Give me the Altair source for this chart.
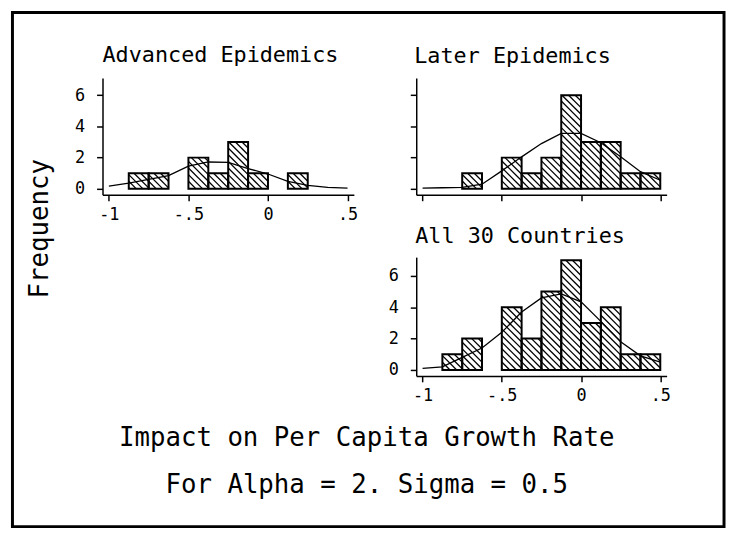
import altair as alt
import pandas as pd

# ---------------- data ----------------
bin_starts = [-0.875, -0.75, -0.625, -0.5, -0.375, -0.25, -0.125, 0.0, 0.125, 0.25, 0.375]
bin_width = 0.125
adv_counts = [1, 1, 0, 2, 1, 3, 1, 0, 1, 0, 0]
later_counts = [0, 1, 0, 2, 1, 2, 6, 3, 3, 1, 1]
all_counts = [1, 2, 0, 4, 2, 5, 7, 3, 4, 1, 1]

curve_x = [-1.0, -0.875, -0.75, -0.625, -0.5, -0.375, -0.25, -0.125, 0.0, 0.125, 0.25, 0.375, 0.5]
adv_curve = [0.17, 0.36, 0.6, 0.85, 1.45, 1.72, 1.7, 1.3, 0.95, 0.48, 0.22, 0.1, 0.05]
later_curve = [0.04, 0.07, 0.1, 0.3, 1.15, 2.05, 2.9, 3.55, 3.55, 2.95, 2.05, 1.1, 0.55]
all_curve = [0.1, 0.2, 0.8, 1.4, 2.4, 3.7, 4.6, 4.85, 4.35, 3.1, 1.8, 0.9, 0.5]

panel_titles = ["Advanced Epidemics", "Later Epidemics", "All 30 Countries"]
x_ticks = [-1, -0.5, 0, 0.5]
x_tick_labels = ["-1", "-.5", "0", ".5"]
y_ticks = [0, 2, 4, 6]
y_title = ["Frequency"]
x_title_1 = ["Impact on Per Capita Growth Rate"]
x_title_2 = ["For Alpha = 2. Sigma = 0.5"]

# ---------------- layout / style ----------------
FONT = "DejaVu Sans Mono"
XMIN, XMAX = -1.04, 0.54
YMIN = -0.38
PW1, PW2 = 254, 253
HATCH = 6.7  # px between hatch lines (horizontal)

label_expr = " : ".join(
    f"datum.value == {v} ? '{t}'" for v, t in zip(x_ticks[:-1], x_tick_labels[:-1])
) + f" : '{x_tick_labels[-1]}'"


def hatch_segments(bars, width, height, ymax):
    sx = width / (XMAX - XMIN)
    sy = height / (ymax - YMIN)
    rows = []
    for x0, x1, n in zip(bars["x0"], bars["x1"], bars["n"]):
        u0, u1 = (x0 - XMIN) * sx, (x1 - XMIN) * sx
        v0, v1 = (0 - YMIN) * sy, (n - YMIN) * sy
        k = int((u0 + v0) // HATCH) + 1
        while k * HATCH < u1 + v1:
            c = k * HATCH
            ua, ub = max(u0, c - v1), min(u1, c - v0)
            if ub > ua:
                rows.append({
                    "hx0": ua / sx + XMIN, "hy0": (c - ua) / sy + YMIN,
                    "hx1": ub / sx + XMIN, "hy1": (c - ub) / sy + YMIN,
                })
            k += 1
    return pd.DataFrame(rows)


def panel(counts, curve, title, width, height, ymax, show_labels, title_dx, title_dy):
    bars = pd.DataFrame({
        "x0": bin_starts,
        "x1": [b + bin_width for b in bin_starts],
        "n": counts,
        "base": [0] * len(counts),
    })
    bars = bars[bars["n"] > 0].reset_index(drop=True)
    hatch = hatch_segments(bars, width, height, ymax)
    line_df = pd.DataFrame({"x": curve_x, "y": curve})

    xs = alt.Scale(domain=[XMIN, XMAX], nice=False, zero=False)
    ys = alt.Scale(domain=[YMIN, ymax], nice=False, zero=False)
    xaxis = alt.Axis(values=x_ticks, labelExpr=label_expr, labels=show_labels,
                     labelPadding=6, labelFlush=False)
    yaxis = alt.Axis(values=y_ticks, labels=show_labels, labelPadding=12)

    def X(f):
        return alt.X(f, type="quantitative", scale=xs, axis=xaxis, title=None)

    def Y(f):
        return alt.Y(f, type="quantitative", scale=ys, axis=yaxis, title=None)

    fill = alt.Chart(bars).mark_rect(fill="white", strokeWidth=0).encode(
        x=X("x0"), x2="x1", y=Y("base"), y2="n")
    lines = alt.Chart(hatch).mark_rule(color="black", strokeWidth=1.3).encode(
        x=X("hx0"), x2="hx1", y=Y("hy0"), y2="hy1")
    outline = alt.Chart(bars).mark_rect(fillOpacity=0, stroke="black", strokeWidth=2).encode(
        x=X("x0"), x2="x1", y=Y("base"), y2="n")
    curve_l = alt.Chart(line_df).mark_line(color="black", strokeWidth=1.3).encode(
        x=X("x"), y=Y("y"))
    return alt.layer(fill, lines, outline, curve_l).properties(
        width=width, height=height,
        title=alt.TitleParams(title, anchor="start", frame="group", offset=0,
                              dx=title_dx, dy=title_dy, baseline="alphabetic"),
    )


adv = panel(adv_counts, adv_curve, panel_titles[0], PW1, 118, 7.1, True, 0, 6)
later = panel(later_counts, later_curve, panel_titles[1], PW2, 118, 7.1, False, -2, 7)
allc = panel(all_counts, all_curve, panel_titles[2], PW2, 120, 7.2, True, -1, 8)

# blank lower-left cell carries the frame and the shared axis titles
one = pd.DataFrame({"k": [0]})
frame = alt.Chart(one).mark_rect(fillOpacity=0, stroke="black", strokeWidth=3).encode(
    x=alt.value(-91), x2=alt.value(628), y=alt.value(-247.2), y2=alt.value(272.3))
ytitle = alt.Chart(pd.DataFrame({"t": y_title})).mark_text(
    font=FONT, fontSize=26, angle=270, align="center", baseline="middle", color="black"
).encode(x=alt.value(-63), y=alt.value(-28.7), text="t:N")
xt1 = alt.Chart(pd.DataFrame({"t": x_title_1})).mark_text(
    font=FONT, fontSize=26, align="center", baseline="middle", color="black"
).encode(x=alt.value(267), y=alt.value(183.3), text="t:N")
xt2 = alt.Chart(pd.DataFrame({"t": x_title_2})).mark_text(
    font=FONT, fontSize=26, align="center", baseline="middle", color="black"
).encode(x=alt.value(267), y=alt.value(230.3), text="t:N")
blank = alt.layer(frame, ytitle, xt1, xt2).properties(width=PW1, height=120)

chart = alt.concat(adv, later, blank, allc, columns=2, spacing=63, bounds="flush").properties(
    padding={"left": 2.5, "top": 0, "right": 0, "bottom": 0}
).configure_view(strokeWidth=0).configure_axis(
    grid=False, domainColor="black", domainWidth=1.5, tickColor="black", tickWidth=1.5,
    tickSize=6, labelFont=FONT, labelFontSize=17, labelColor="black",
).configure_title(font=FONT, fontSize=22, fontWeight="normal", color="black")

chart.save("out.html", embed_options={"renderer": "svg", "actions": False})
